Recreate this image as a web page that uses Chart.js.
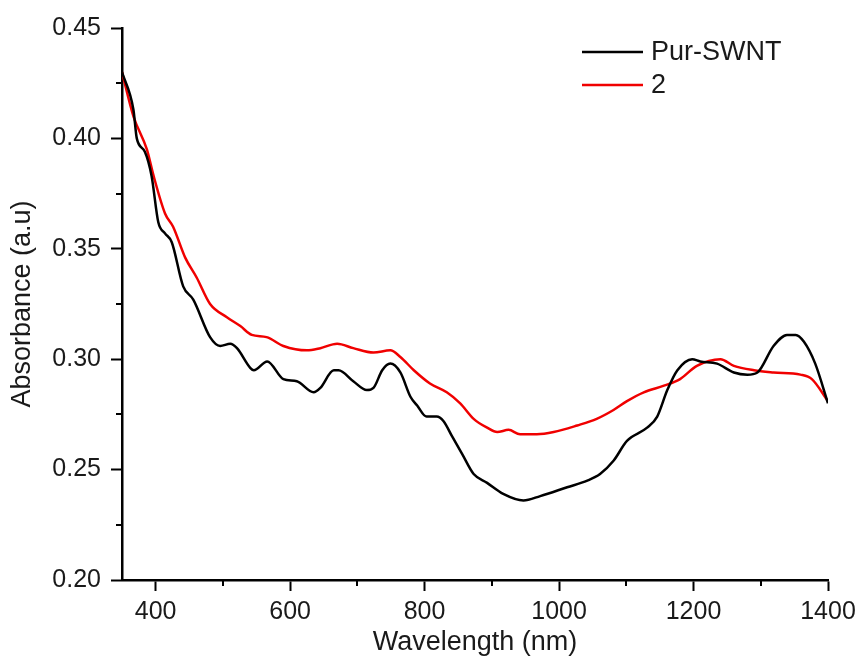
<!DOCTYPE html>
<html>
<head>
<meta charset="utf-8">
<script src="https://cdn.jsdelivr.net/npm/chart.js@4.4.1/dist/chart.umd.min.js"></script>
<style>
  html, body { margin: 0; padding: 0; background: #ffffff; }
  #wrap { width: 858px; height: 662px; }
</style>
</head>
<body>
<div id="wrap"><canvas id="c" width="858" height="662"></canvas></div>
<script>
// ---- data ----
const seriesNames = ["Pur-SWNT", "2"];

const wavelengthPur = [350, 367, 372, 384, 394, 404, 414, 424, 441, 456, 481, 496, 511, 521, 541, 546, 566, 590, 610, 635, 645, 665, 672, 694, 714, 724, 737, 749, 764, 779, 789, 803, 818, 828, 841, 856, 873, 893, 917, 947, 972, 1012, 1042, 1061, 1081, 1101, 1131, 1146, 1161, 1176, 1198, 1210, 1235, 1260, 1280, 1295, 1319, 1339, 1352, 1364, 1381, 1400];
const absorbancePur = [0.430, 0.413, 0.400, 0.394, 0.383, 0.362, 0.357, 0.353, 0.333, 0.327, 0.310, 0.306, 0.307, 0.305, 0.296, 0.295, 0.299, 0.291, 0.290, 0.285, 0.287, 0.295, 0.295, 0.290, 0.286, 0.287, 0.295, 0.298, 0.294, 0.283, 0.279, 0.274, 0.274, 0.272, 0.265, 0.257, 0.248, 0.244, 0.239, 0.236, 0.238, 0.242, 0.245, 0.248, 0.254, 0.263, 0.269, 0.274, 0.286, 0.295, 0.300, 0.299, 0.298, 0.294, 0.293, 0.294, 0.306, 0.311, 0.311, 0.308, 0.298, 0.280];

const wavelength2 = [350, 367, 387, 397, 414, 426, 444, 461, 481, 506, 526, 543, 565, 590, 625, 645, 670, 694, 724, 749, 764, 784, 808, 833, 853, 873, 893, 908, 925, 942, 967, 992, 1027, 1056, 1081, 1101, 1126, 1156, 1180, 1205, 1240, 1260, 1290, 1319, 1359, 1376, 1400];
const absorbance2 = [0.430, 0.410, 0.395, 0.383, 0.366, 0.360, 0.346, 0.337, 0.325, 0.319, 0.315, 0.311, 0.310, 0.306, 0.304, 0.305, 0.307, 0.305, 0.303, 0.304, 0.301, 0.295, 0.289, 0.285, 0.280, 0.273, 0.269, 0.267, 0.268, 0.266, 0.266, 0.267, 0.270, 0.273, 0.277, 0.281, 0.285, 0.288, 0.291, 0.297, 0.300, 0.297, 0.295, 0.294, 0.293, 0.291, 0.281];

const xMajorTicks = [400, 600, 800, 1000, 1200, 1400];
const xMinorTicks = [500, 700, 900, 1100, 1300];
const yMajorTicks = [0.20, 0.25, 0.30, 0.35, 0.40, 0.45];
const yMinorTicks = [0.225, 0.275, 0.325, 0.375, 0.425];

const xTitle = "Wavelength (nm)";
const yTitle = "Absorbance (a.u)";

// ---- chart ----
const FONT = "'Liberation Sans', Arial, Helvetica, sans-serif";
const toPoints = (xs, ys) => xs.map((x, i) => ({ x: x, y: ys[i] }));

const minorTickPlugin = {
  id: 'minorTicks',
  afterDraw(chart) {
    const ctx = chart.ctx;
    const xs = chart.scales.x, ys = chart.scales.y;
    const area = chart.chartArea;
    ctx.save();
    ctx.strokeStyle = '#000';
    ctx.lineWidth = 2;
    ctx.beginPath();
    xMinorTicks.forEach(v => {
      const px = Math.round(xs.getPixelForValue(v));
      ctx.moveTo(px, area.bottom);
      ctx.lineTo(px, area.bottom + 6);
    });
    yMinorTicks.forEach(v => {
      const py = Math.round(ys.getPixelForValue(v));
      ctx.moveTo(area.left, py);
      ctx.lineTo(area.left - 6, py);
    });
    ctx.stroke();
    ctx.restore();
  }
};

const legendPlugin = {
  id: 'customLegend',
  afterDraw(chart) {
    const ctx = chart.ctx;
    ctx.save();
    ctx.font = '27px ' + FONT;
    ctx.textBaseline = 'middle';
    ctx.textAlign = 'left';
    chart.data.datasets.forEach((ds, i) => {
      const y = 52 + i * 33;
      ctx.strokeStyle = ds.borderColor;
      ctx.lineWidth = 2.5;
      ctx.beginPath();
      ctx.moveTo(582, y);
      ctx.lineTo(643, y);
      ctx.stroke();
      ctx.fillStyle = '#1a1a1a';
      ctx.fillText(ds.label, 651, y + 1);
    });
    ctx.restore();
  }
};

new Chart(document.getElementById('c'), {
  type: 'line',
  data: {
    datasets: [
      {
        label: seriesNames[0],
        data: toPoints(wavelengthPur, absorbancePur),
        borderColor: '#000000',
        borderWidth: 2.5,
        pointRadius: 0,
        fill: false,
        cubicInterpolationMode: 'monotone'
      },
      {
        label: seriesNames[1],
        data: toPoints(wavelength2, absorbance2),
        borderColor: '#f00000',
        borderWidth: 2.5,
        pointRadius: 0,
        fill: false,
        cubicInterpolationMode: 'monotone'
      }
    ]
  },
  options: {
    responsive: false,
    animation: false,
    events: [],
    layout: { padding: { top: 28, right: 30, left: 0, bottom: 0 } },
    plugins: {
      legend: { display: false },
      tooltip: { enabled: false }
    },
    scales: {
      x: {
        type: 'linear',
        min: 350,
        max: 1400,
        afterBuildTicks: s => { s.ticks = xMajorTicks.map(v => ({ value: v })); },
        afterFit: s => { s.height = 82; s.paddingRight = 0; s.paddingLeft = 0; },
        border: { display: true, color: '#000', width: 2.5 },
        grid: { drawOnChartArea: false, drawTicks: true, tickLength: 11, tickColor: '#000', tickWidth: 2 },
        ticks: { color: '#1a1a1a', font: { family: FONT, size: 25 }, padding: 6, maxRotation: 0, autoSkip: false,
                 callback: v => String(v) },
        title: { display: true, text: xTitle, color: '#1a1a1a', font: { family: FONT, size: 27 }, padding: { top: 0, bottom: 3 } }
      },
      y: {
        type: 'linear',
        min: 0.20,
        max: 0.45,
        afterBuildTicks: s => { s.ticks = yMajorTicks.map(v => ({ value: v })); },
        afterFit: s => { s.width = 122; s.paddingTop = 0; s.paddingBottom = 0; },
        border: { display: true, color: '#000', width: 2.5 },
        grid: { drawOnChartArea: false, drawTicks: true, tickLength: 11, tickColor: '#000', tickWidth: 2 },
        ticks: { color: '#1a1a1a', font: { family: FONT, size: 25 }, padding: 10, autoSkip: false,
                 callback: v => v.toFixed(2) },
        title: { display: true, text: yTitle, color: '#1a1a1a', font: { family: FONT, size: 27 }, padding: { top: 6, bottom: 0 } }
      }
    }
  },
  plugins: [minorTickPlugin, legendPlugin]
});
</script>
</body>
</html>
